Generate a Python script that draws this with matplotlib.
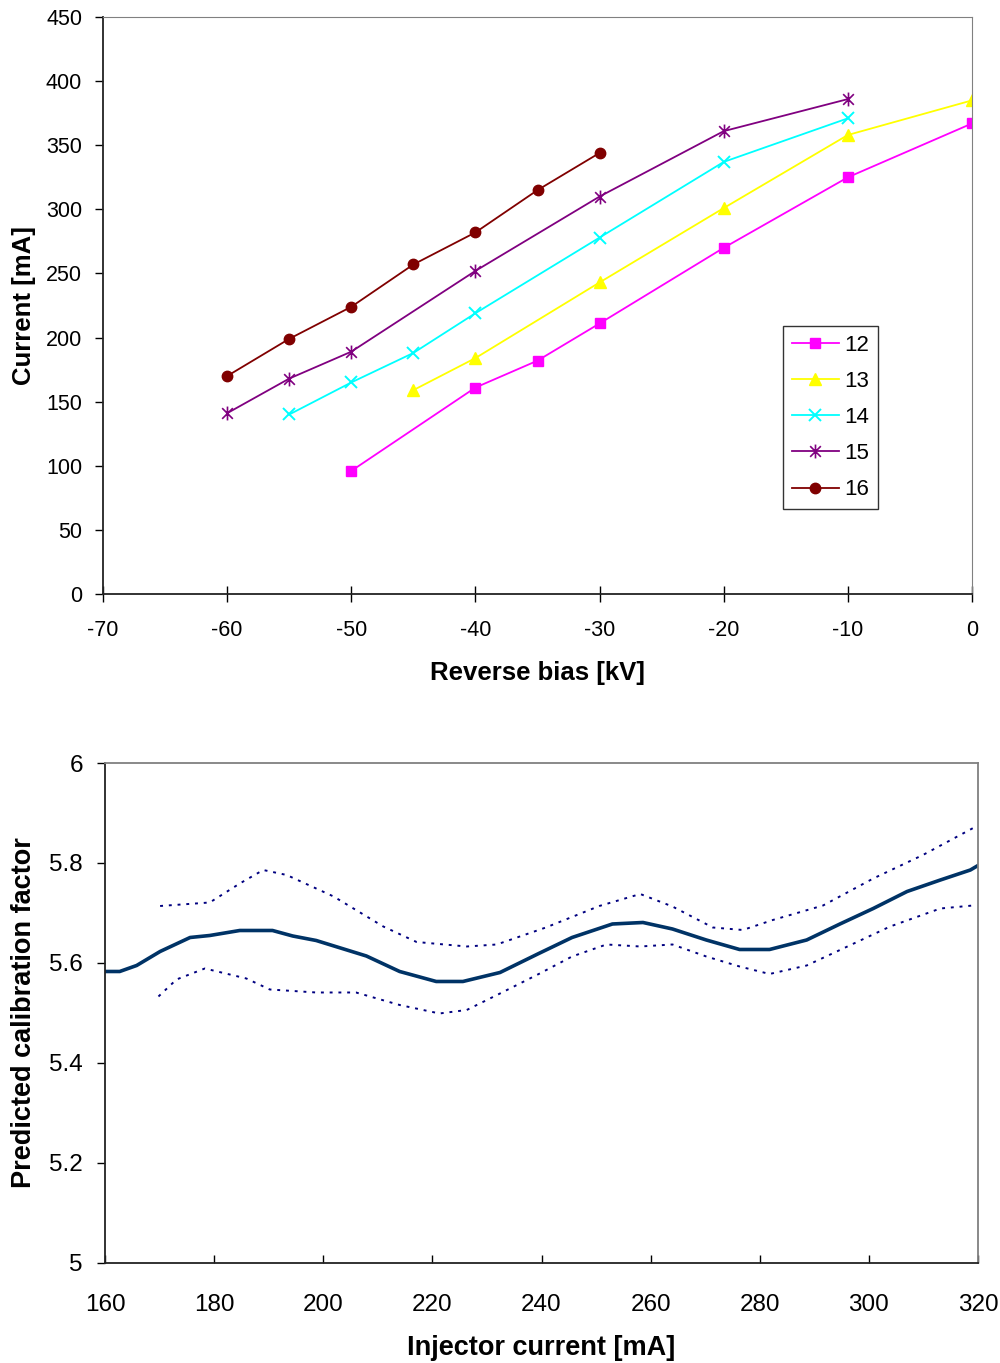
import matplotlib
matplotlib.use("Agg")
from matplotlib import pyplot as plt
from matplotlib.path import Path

plt.rcParams['font.family'] = ['Liberation Sans', 'DejaVu Sans']
plt.rcParams['axes.unicode_minus'] = False

# top chart: current vs reverse bias, one series per setting
bias_12 = [-50, -40, -35, -30, -20, -10, 0]
current_12 = [96, 161, 182, 211, 270, 325, 367]
bias_13 = [-45, -40, -30, -20, -10, 0]
current_13 = [159, 184, 243, 301, 358, 385]
bias_14 = [-55, -50, -45, -40, -30, -20, -10]
current_14 = [140, 165, 188, 219, 278, 337, 371]
bias_15 = [-60, -55, -50, -40, -30, -20, -10]
current_15 = [141, 168, 189, 252, 310, 361, 386]
bias_16 = [-60, -55, -50, -45, -40, -35, -30]
current_16 = [170, 199, 224, 257, 282, 315, 344]
series_labels = ['12', '13', '14', '15', '16']

# bottom chart: predicted calibration factor with bounds
inj_current = [160, 162.7, 165.8, 170.1, 175.6, 179.2, 184.7, 190.7, 194.4, 198.7,
               207.9, 214, 220.7, 225.6, 232.4, 239.5, 245.6, 253, 258.6, 264,
               270.2, 276.3, 281.8, 288.6, 294.7, 300.8, 307, 313.1, 318.6, 320]
factor = [5.583, 5.583, 5.595, 5.623, 5.651, 5.655, 5.665, 5.665, 5.654, 5.645,
          5.614, 5.583, 5.563, 5.563, 5.581, 5.619, 5.651, 5.678, 5.681, 5.668,
          5.646, 5.627, 5.627, 5.646, 5.678, 5.709, 5.743, 5.766, 5.786, 5.795]

upper_x = [170.1, 179.2, 184.7, 189, 193.3, 201.9, 211, 217.1, 226.3, 231.8,
           240.8, 250.6, 258.1, 264, 271.4, 276.9, 282.4, 291.6, 300.8, 309.9, 319.8]
upper_y = [5.714, 5.721, 5.759, 5.786, 5.776, 5.733, 5.673, 5.642, 5.633, 5.637,
           5.671, 5.714, 5.738, 5.713, 5.671, 5.666, 5.686, 5.715, 5.769, 5.816, 5.874]

lower_x = [169.8, 173.1, 178.3, 185.9, 190.2, 198.7, 206, 214, 221.3, 226.3,
           232.4, 239.5, 245.6, 251.9, 258.1, 264, 270.2, 276.3, 281.8, 288.6,
           294.7, 303.9, 313.1, 319.1]
lower_y = [5.533, 5.567, 5.589, 5.569, 5.547, 5.541, 5.541, 5.516, 5.499, 5.506,
           5.539, 5.578, 5.613, 5.637, 5.633, 5.637, 5.613, 5.593, 5.578, 5.595,
           5.626, 5.673, 5.709, 5.715]

# Excel style star: an x with a vertical bar through it
star = Path([(-1, -1), (1, 1), (-1, 1), (1, -1), (0, -1.3), (0, 1.3)],
            [Path.MOVETO, Path.LINETO, Path.MOVETO, Path.LINETO, Path.MOVETO, Path.LINETO])

fig = plt.figure(figsize=(10, 13.63), dpi=100)

ax1 = fig.add_axes([0.103, 0.5642, 0.869, 0.4233])
ax1.plot(bias_12, current_12, color='#FF00FF', marker='s', ms=7.5, lw=1.3, label=series_labels[0])
ax1.plot(bias_13, current_13, color='#FFFF00', marker='^', ms=8.5, lw=1.3, label=series_labels[1])
ax1.plot(bias_14, current_14, color='#00FFFF', marker='x', ms=8.5, mew=1.4, lw=1.3, label=series_labels[2])
ax1.plot(bias_15, current_15, color='#800080', marker=star, ms=10, mew=1.2, lw=1.3, label=series_labels[3])
ax1.plot(bias_16, current_16, color='#800000', marker='o', ms=7.5, lw=1.3, label=series_labels[4])
ax1.set_xlim(-70, 0)
ax1.set_ylim(0, 450)
ax1.set_xticks(range(-70, 1, 10))
ax1.set_yticks(range(0, 451, 50))
ax1.tick_params(axis='y', direction='out', length=6, labelsize=15.5, width=1, pad=9)
ax1.tick_params(axis='x', direction='inout', length=12, labelsize=15.5, width=1, pad=13)
for s in ['top', 'right']:
    ax1.spines[s].set_color('#808080')
for s in ['left', 'bottom']:
    ax1.spines[s].set_color('#222222')
    ax1.spines[s].set_linewidth(1.3)
ax1.set_xlabel('Reverse bias [kV]', fontsize=18.5, fontweight='bold', labelpad=14)
ax1.set_ylabel('Current [mA]', fontsize=18.5, fontweight='bold', labelpad=7)
leg = ax1.legend(loc='upper left', bbox_to_anchor=(0.7825, 0.4645), fontsize=16,
                 frameon=True, fancybox=False, edgecolor='black', handlelength=2.1,
                 labelspacing=0.68, borderpad=0.4, handletextpad=0.25, borderaxespad=0)
leg.get_frame().set_linewidth(1)

ax2 = fig.add_axes([0.105, 0.0734, 0.873, 0.3668])
ax2.plot(inj_current, factor, color='#003366', lw=2.6)
ax2.plot(upper_x, upper_y, color='#000080', lw=1.4, linestyle=(0, (1.5, 3)))
ax2.plot(lower_x, lower_y, color='#000080', lw=1.4, linestyle=(0, (1.5, 3)))
ax2.set_xlim(160, 320)
ax2.set_ylim(5, 6)
ax2.set_xticks(range(160, 321, 20))
ax2.set_yticks([5, 5.2, 5.4, 5.6, 5.8, 6])
ax2.set_yticklabels(['5', '5.2', '5.4', '5.6', '5.8', '6'])
ax2.tick_params(axis='y', direction='out', length=6, labelsize=17.5, width=1, pad=10)
ax2.tick_params(axis='x', direction='in', length=6, labelsize=17.5, width=1, pad=22)
for s in ['top', 'right']:
    ax2.spines[s].set_color('#808080')
    ax2.spines[s].set_linewidth(1.3)
for s in ['left', 'bottom']:
    ax2.spines[s].set_color('#222222')
    ax2.spines[s].set_linewidth(1.3)
ax2.set_xlabel('Injector current [mA]', fontsize=19.5, fontweight='bold', labelpad=14)
ax2.set_ylabel('Predicted calibration factor', fontsize=19.5, fontweight='bold', labelpad=9)

plt.savefig('out.png', dpi=100)
